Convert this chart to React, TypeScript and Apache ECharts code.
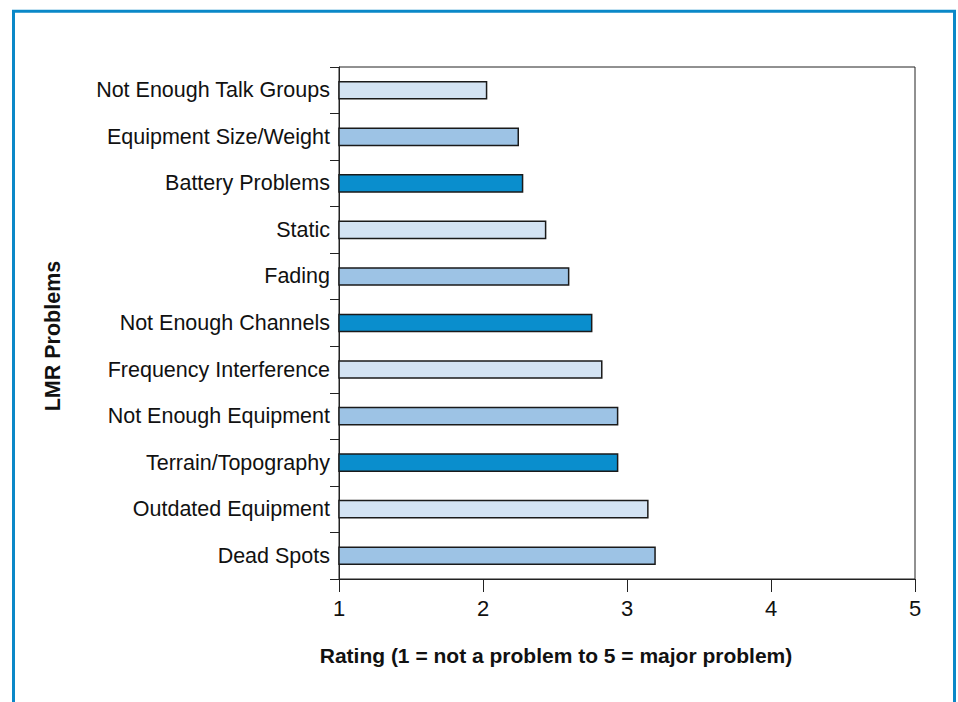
import React, { useEffect, useRef } from "react";
import * as echarts from "echarts";

const categories = [
  "Not Enough Talk Groups",
  "Equipment Size/Weight",
  "Battery Problems",
  "Static",
  "Fading",
  "Not Enough Channels",
  "Frequency Interference",
  "Not Enough Equipment",
  "Terrain/Topography",
  "Outdated Equipment",
  "Dead Spots",
];
const ratings = [2.03, 2.25, 2.28, 2.44, 2.6, 2.76, 2.83, 2.94, 2.94, 3.15, 3.2];
const palette = ["#d3e3f3", "#9dc3e5", "#0a8ecd"];
const xTicks = [1, 2, 3, 4, 5];
const xTitle = "Rating (1 = not a problem to 5 = major problem)";
const yTitle = "LMR Problems";

const FONT = "'Liberation Sans', Arial, Helvetica, sans-serif";

export default function App() {
  const ref = useRef<HTMLDivElement>(null);
  useEffect(() => {
    document.body.style.margin = "0";
    if (!ref.current) return;
    const chart = echarts.init(ref.current, undefined, { renderer: "svg" });
    chart.setOption({
      animation: false,
      backgroundColor: "#ffffff",
      textStyle: { fontFamily: FONT },
      grid: {
        left: 339,
        top: 67,
        width: 576,
        height: 512,
        show: true,
        borderColor: "#222222",
        borderWidth: 1,
        containLabel: false,
      },
      xAxis: {
        type: "value",
        min: xTicks[0],
        max: xTicks[xTicks.length - 1],
        interval: 1,
        axisLine: { show: true, lineStyle: { color: "#222222", width: 1 } },
        axisTick: { show: true, length: 13, lineStyle: { color: "#222222" } },
        axisLabel: { color: "#111111", fontSize: 22, margin: 18, fontFamily: FONT },
        splitLine: { show: false },
      },
      yAxis: {
        type: "category",
        data: categories,
        inverse: true,
        boundaryGap: true,
        axisLine: { show: true, lineStyle: { color: "#222222", width: 1 } },
        axisTick: { show: true, length: 9, alignWithLabel: false, lineStyle: { color: "#222222" } },
        axisLabel: {
          color: "#111111",
          fontSize: 21.5,
          margin: 9,
          fontFamily: FONT,
          padding: [4, 0, 0, 0],
        },
        splitLine: { show: false },
      },
      series: [
        {
          type: "bar",
          barWidth: "40%",
          data: ratings.map((v, i) => ({
            value: v,
            itemStyle: {
              color: palette[i % palette.length],
              borderColor: "#1a1a1a",
              borderWidth: 1.5,
            },
          })),
        },
      ],
      graphic: [
        {
          type: "rect",
          shape: { x: 13.5, y: 11.3, width: 941, height: 720 },
          style: { fill: "none", stroke: "#0a88c8", lineWidth: 3 },
          silent: true,
        },
        {
          type: "text",
          x: 556,
          y: 655,
          style: {
            text: xTitle,
            fontFamily: FONT,
            fontSize: 21,
            fontWeight: "bold",
            fill: "#111111",
            align: "center",
            verticalAlign: "middle",
          },
        },
        {
          type: "text",
          x: 53,
          y: 336,
          rotation: Math.PI / 2,
          style: {
            text: yTitle,
            fontFamily: FONT,
            fontSize: 21.5,
            fontWeight: "bold",
            fill: "#111111",
            align: "center",
            verticalAlign: "middle",
          },
        },
      ],
    });
    return () => chart.dispose();
  }, []);
  return <div ref={ref} style={{ width: 958, height: 702 }} />;
}
